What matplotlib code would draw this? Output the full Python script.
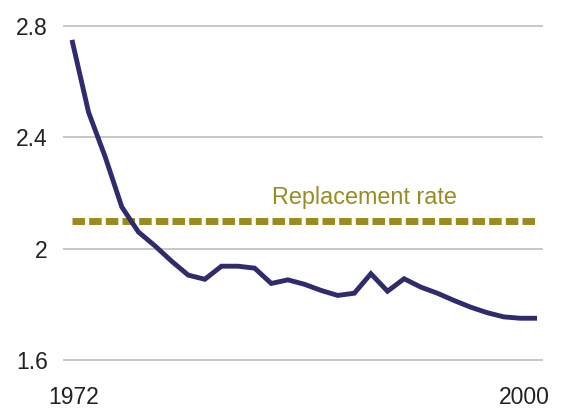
import matplotlib
matplotlib.use("Agg")
import matplotlib.pyplot as plt
import matplotlib.transforms as mtransforms

plt.rcParams['font.family'] = ['Liberation Sans', 'DejaVu Sans']

years = list(range(1972, 2001))
fertility = [2.75, 2.49, 2.33, 2.15, 2.06, 2.01, 1.955, 1.905, 1.89, 1.937, 1.937, 1.93,
             1.875, 1.888, 1.872, 1.85, 1.832, 1.84, 1.91, 1.847, 1.892, 1.862, 1.84,
             1.814, 1.79, 1.77, 1.755, 1.75, 1.75]
replacement_years = [1972, 2000]
replacement_rate = 2.1
replacement_label = "Replacement rate"
y_ticks = [1.6, 2.0, 2.4, 2.8]
y_tick_labels = ["1.6", "2", "2.4", "2.8"]
x_ticks = [1972, 2000]
x_tick_labels = ["1972", "2000"]

fig = plt.figure(figsize=(5.66, 4.08), dpi=100)
ax = fig.add_axes([0.1113, 0.1108, 0.848, 0.8323])

ax.plot(replacement_years, [replacement_rate] * len(replacement_years), color='#9a8b1f',
        lw=5, dashes=(1.8, 0.6), dash_capstyle='butt', solid_capstyle='butt', zorder=2)
ax.plot(years, fertility, color='#2f2b6c', lw=3.5, solid_joinstyle='miter',
        solid_capstyle='butt', zorder=3)

ax.text(1989.6, 2.185, replacement_label, color='#9a8b1f', fontsize=16.8,
        ha='center', va='center')

ax.set_xlim(1971.46, 2000.36)
ax.set_ylim(1.59, 2.81)
ax.set_yticks(y_ticks)
ax.set_yticklabels(y_tick_labels)
ax.set_xticks(x_ticks)
ax.set_xticklabels(x_tick_labels)
ax.yaxis.grid(True, color='#bdbdbf', lw=1.2)
ax.set_axisbelow(True)
for s in ax.spines.values():
    s.set_visible(False)
ax.tick_params(axis='both', length=0, labelsize=16.5, colors='#222222')
ax.tick_params(axis='y', pad=11)
ax.tick_params(axis='x', pad=17)

labels = ax.get_xticklabels()
labels[1].set_transform(labels[1].get_transform() +
                        mtransforms.ScaledTranslation(-13 / 100, 0, fig.dpi_scale_trans))
labels[0].set_transform(labels[0].get_transform() +
                        mtransforms.ScaledTranslation(2 / 100, 0, fig.dpi_scale_trans))

fig.savefig("out.png", dpi=100)
